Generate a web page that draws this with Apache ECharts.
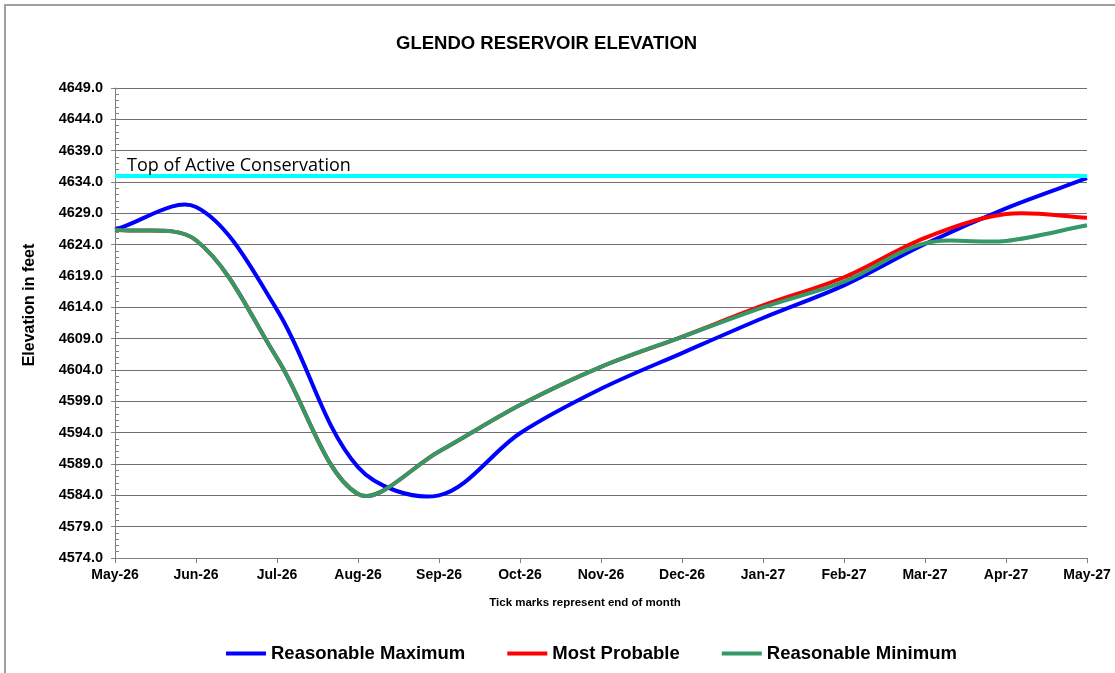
<!DOCTYPE html>
<html>
<head>
<meta charset="utf-8">
<script src="https://cdn.jsdelivr.net/npm/echarts@6/dist/echarts.min.js"></script>
<style>
  html, body { margin: 0; padding: 0; background: #fff; }
  #chart { width: 1115px; height: 673px; }
</style>
</head>
<body>
<div id="chart"></div>
<script>
// end-of-month elevations, feet
const months = ['May-26', 'Jun-26', 'Jul-26', 'Aug-26', 'Sep-26', 'Oct-26', 'Nov-26',
  'Dec-26', 'Jan-27', 'Feb-27', 'Mar-27', 'Apr-27', 'May-27']
const reasonableMax = [4626.4, 4630.0, 4613.6, 4588.5, 4584.0, 4593.9, 4601.0,
  4606.7, 4612.3, 4617.5, 4624.1, 4629.8, 4634.6]
const mostProbable = [4626.4, 4624.7, 4605.9, 4584.2, 4591.0, 4598.4, 4604.5,
  4609.3, 4614.3, 4618.8, 4625.1, 4628.9, 4628.3]
const reasonableMin = [4626.4, 4624.7, 4605.9, 4584.2, 4591.0, 4598.4, 4604.5,
  4609.3, 4614.0, 4618.1, 4624.2, 4624.6, 4627.1]
const topActive = 4635.0
const yMin = 4574, yMax = 4649, yStep = 5

const font = "'Liberation Sans', Arial, sans-serif"
let myChart = echarts.init(document.getElementById('chart'))

// spreadsheet style smoothing: tangent from the neighbours, scaled by segment length
function smoothPath(pts) {
  const n = pts.length
  const dist = (a, b) => Math.hypot(b[0] - a[0], b[1] - a[1])
  let d = 'M' + pts[0][0] + ' ' + pts[0][1]
  for (let i = 0; i < n - 1; i++) {
    const p0 = pts[Math.max(i - 1, 0)], p1 = pts[i], p2 = pts[i + 1], p3 = pts[Math.min(i + 2, n - 1)]
    const d01 = dist(p0, p1), d12 = dist(p1, p2), d23 = dist(p2, p3)
    const f1 = d12 / (d01 + d12) / 3
    const f2 = d12 / (d12 + d23) / 3
    const c1x = p1[0] + (p2[0] - p0[0]) * f1, c1y = p1[1] + (p2[1] - p0[1]) * f1
    const c2x = p2[0] - (p3[0] - p1[0]) * f2, c2y = p2[1] - (p3[1] - p1[1]) * f2
    d += ' C' + c1x + ' ' + c1y + ' ' + c2x + ' ' + c2y + ' ' + p2[0] + ' ' + p2[1]
  }
  return d
}

function curveSeries(name, color, values, extra) {
  return {
    name: name,
    type: 'custom',
    coordinateSystem: 'cartesian2d',
    silent: true,
    itemStyle: { color: color },
    encode: { x: 0, y: 1 },
    data: values.map((v, i) => [i, v]),
    renderItem: function (params, api) {
      if (params.dataIndex !== 0) return
      let pts = values.map((v, i) => api.coord([i, v]))
      return {
        type: 'path',
        shape: { pathData: smoothPath(pts) },
        style: { stroke: color, lineWidth: 4, fill: 'none', lineJoin: 'round' }
      }
    },
    ...extra
  }
}

myChart.setOption({
  backgroundColor: '#fff',
  animation: false,
  title: {
    text: 'GLENDO RESERVOIR ELEVATION',
    left: 391,
    top: 29,
    textStyle: { fontFamily: font, fontSize: 18.5, fontWeight: 'bold', color: '#000' }
  },
  grid: { left: 115, right: 28, top: 88, bottom: 115 },
  legend: {
    left: 226,
    top: 644,
    padding: 0,
    itemWidth: 40,
    itemHeight: 4,
    itemGap: 42,
    icon: 'rect',
    textStyle: { fontFamily: font, fontSize: 18.5, fontWeight: 'bold', color: '#000' },
    data: ['Reasonable Maximum', 'Most Probable', 'Reasonable Minimum']
  },
  xAxis: {
    type: 'category',
    data: months,
    boundaryGap: false,
    axisLine: { lineStyle: { color: '#808080', width: 1 } },
    axisTick: { show: true, length: 5, alignWithLabel: true, lineStyle: { color: '#808080' } },
    axisLabel: { fontFamily: font, fontSize: 14, fontWeight: 'bold', color: '#000', margin: 10 },
    splitLine: { show: false }
  },
  yAxis: [{
    type: 'value',
    min: yMin,
    max: yMax,
    interval: yStep,
    axisLine: { show: true, lineStyle: { color: '#808080' } },
    axisTick: { show: true, length: 4, lineStyle: { color: '#808080' } },
    axisLabel: {
      fontFamily: font, fontSize: 14.5, fontWeight: 'bold', color: '#000', margin: 12,
      formatter: v => v.toFixed(1)
    },
    splitLine: { show: true, lineStyle: { color: '#707070', width: 1 } }
  }, {
    // second copy only for the inside minor ticks
    type: 'value',
    position: 'left',
    min: yMin,
    max: yMax,
    interval: yStep,
    axisLine: { show: false },
    axisTick: { show: false, inside: true },
    minorTick: { show: true, splitNumber: 5, length: 4, lineStyle: { color: '#808080' } },
    axisLabel: { show: false },
    splitLine: { show: false }
  }],
  graphic: [{
    type: 'rect',
    shape: { x: 5, y: 5, width: 1300, height: 900 },
    style: { fill: 'none', stroke: '#a0a0a0', lineWidth: 2 },
    silent: true
  }, {
    type: 'text',
    x: 30,
    y: 305,
    rotation: Math.PI / 2,
    style: {
      text: 'Elevation in feet',
      fontFamily: font, fontSize: 16, fontWeight: 'bold', fill: '#000',
      align: 'center', verticalAlign: 'middle'
    }
  }, {
    type: 'text',
    x: 585,
    y: 603,
    style: {
      text: 'Tick marks represent end of month',
      fontFamily: font, fontSize: 11.5, fontWeight: 'bold', fill: '#000',
      align: 'center', verticalAlign: 'middle'
    }
  }],
  series: [
    curveSeries('Reasonable Maximum', '#0000ff', reasonableMax, {
      markLine: {
        silent: true,
        symbol: 'none',
        lineStyle: { color: '#00ffff', width: 4, type: 'solid' },
        label: {
          show: true,
          position: 'insideStartTop',
          distance: [12, 1],
          formatter: 'Top of Active Conservation',
          fontFamily: "'Open Sans', sans-serif",
          fontSize: 18,
          color: '#000'
        },
        data: [{ yAxis: topActive }]
      }
    }),
    curveSeries('Most Probable', '#ff0000', mostProbable),
    curveSeries('Reasonable Minimum', '#339966', reasonableMin)
  ]
})
</script>
</body>
</html>
